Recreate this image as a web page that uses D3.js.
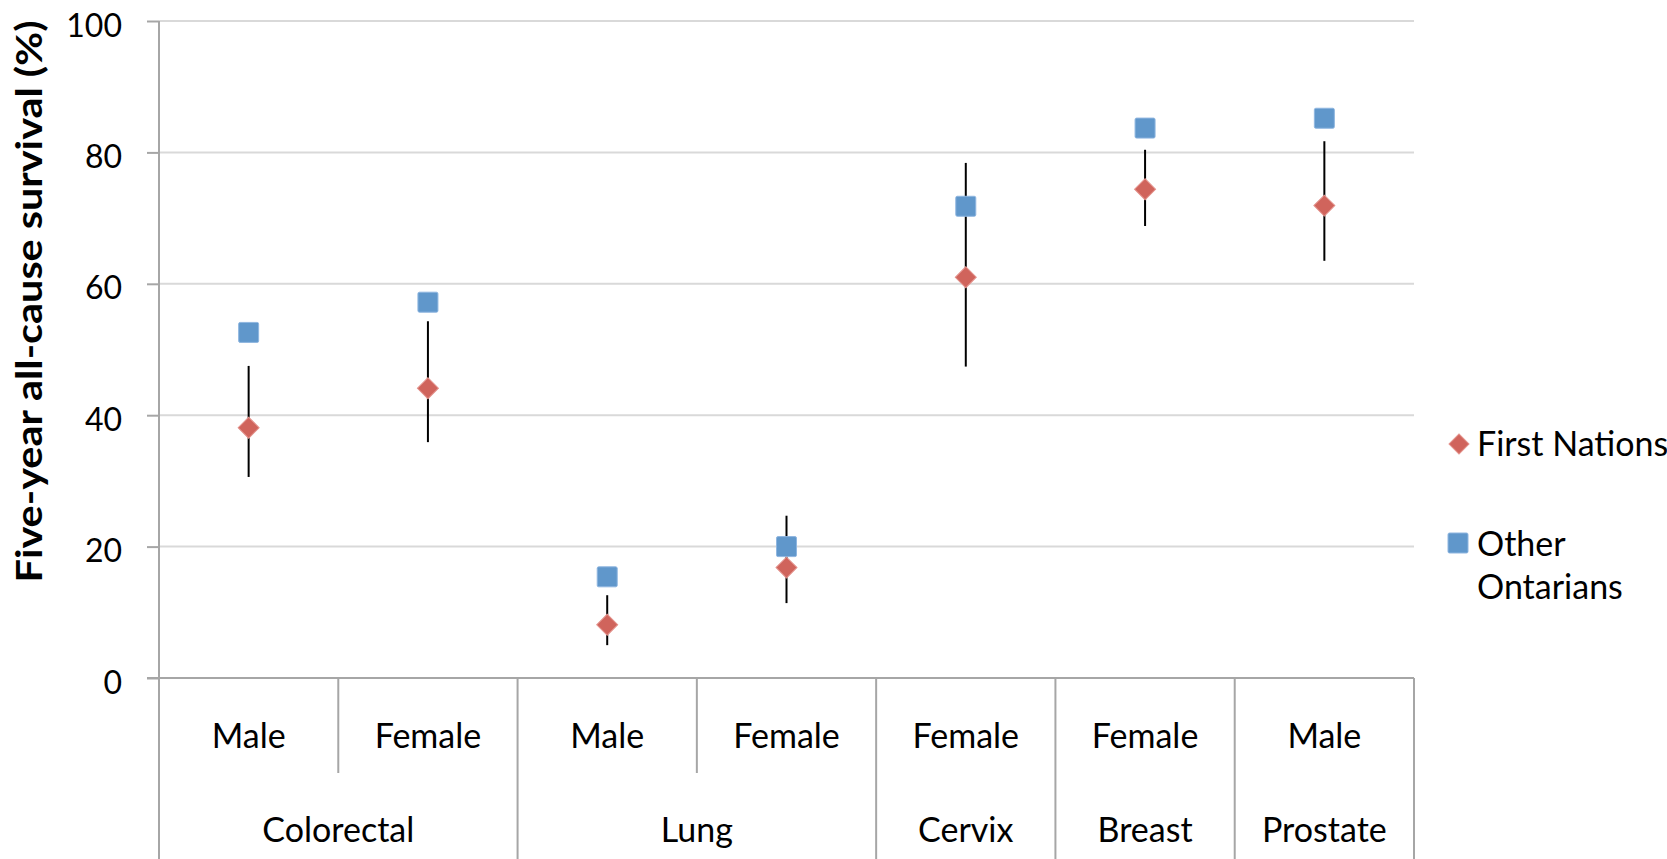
<!DOCTYPE html>
<html>
<head>
<meta charset="utf-8">
<script src="https://cdn.jsdelivr.net/npm/d3@7"></script>
<style>
  html, body { margin: 0; padding: 0; background: #fff; }
  svg { display: block; }
  text { font-family: Lato, "Open Sans", sans-serif; fill: #000; }
</style>
</head>
<body>
<svg id="chart" width="1667" height="859"></svg>
<script>
const cancers = ["Colorectal", "Colorectal", "Lung", "Lung", "Cervix", "Breast", "Prostate"];
const sexes = ["Male", "Female", "Male", "Female", "Female", "Female", "Male"];
const otherOntarians = [52.6, 57.2, 15.4, 20.0, 71.8, 83.7, 85.2];
const firstNations = [38.1, 44.1, 8.1, 16.8, 61.0, 74.4, 71.9];
const fnLower = [30.6, 35.9, 5.0, 11.4, 47.4, 68.8, 63.5];
const fnUpper = [47.5, 54.3, 12.6, 24.7, 78.4, 80.4, 81.7];
const yTicks = [0, 20, 40, 60, 80, 100];
const seriesNames = ["First Nations", "Other Ontarians"];
const yTitle = "Five-year all-cause survival (%)";

(function () {
const svg = d3.select("#chart");
const pL = 159, pR = 1414, pT = 21, pB = 678;
const idx = d3.range(cancers.length);

const x = d3.scaleBand().domain(idx).range([pL, pR]).padding(0);
const y = d3.scaleLinear().domain([0, 100]).range([pB, pT]);

const axisColor = "#a6a6a6";
const gridColor = "#d9d9d9";
const blue = "#6097CB", blueStroke = "#8fb6e0";
const red = "#D0645C", redStroke = "#e3928c";

// gridlines
svg.append("g").selectAll("line").data(yTicks.filter(d => d > 0)).join("line")
  .attr("x1", pL).attr("x2", pR)
  .attr("y1", d => y(d)).attr("y2", d => y(d))
  .attr("stroke", gridColor).attr("stroke-width", 2);

// y axis
const yAxis = svg.append("g").attr("transform", `translate(${pL},0)`)
  .call(d3.axisLeft(y).tickValues(yTicks).tickSize(12).tickPadding(25).tickFormat(d3.format("d")));
yAxis.select(".domain").remove();
yAxis.selectAll(".tick line").attr("stroke", axisColor).attr("stroke-width", 2);
yAxis.selectAll(".tick text").style("font-size", "32px").style("font-family", "Lato, sans-serif")
  .attr("fill", "#000").attr("dy", "15px");

// vertical axis line (extends down through category area)
svg.append("line").attr("x1", pL).attr("x2", pL).attr("y1", pT).attr("y2", 859)
  .attr("stroke", axisColor).attr("stroke-width", 2);

// horizontal axis line
svg.append("line").attr("x1", pL - 12).attr("x2", pR).attr("y1", pB).attr("y2", pB)
  .attr("stroke", axisColor).attr("stroke-width", 2);

// category dividers
const dividers = idx.slice(1).map(i => ({ x: x(i), long: cancers[i] !== cancers[i - 1] }));
dividers.push({ x: pR, long: true });
svg.append("g").selectAll("line").data(dividers).join("line")
  .attr("x1", d => d.x).attr("x2", d => d.x)
  .attr("y1", pB).attr("y2", d => d.long ? 859 : 773)
  .attr("stroke", axisColor).attr("stroke-width", 2);

// sub labels
svg.append("g").selectAll("text").data(idx).join("text")
  .attr("x", i => x(i) + x.bandwidth() / 2).attr("y", 748)
  .attr("text-anchor", "middle").style("font-size", "34px")
  .text(i => sexes[i]);

// group labels
const groups = [];
idx.forEach(i => {
  const g = groups.find(g => g.name === cancers[i]);
  if (g) g.end = i; else groups.push({ name: cancers[i], start: i, end: i });
});
svg.append("g").selectAll("text").data(groups).join("text")
  .attr("x", g => (x(g.start) + x(g.end) + x.bandwidth()) / 2).attr("y", 842)
  .attr("text-anchor", "middle").style("font-size", "34px")
  .text(g => g.name);

// error bars
svg.append("g").selectAll("line").data(idx).join("line")
  .attr("x1", i => x(i) + x.bandwidth() / 2).attr("x2", i => x(i) + x.bandwidth() / 2)
  .attr("y1", i => y(fnUpper[i])).attr("y2", i => y(fnLower[i]))
  .attr("stroke", "#000").attr("stroke-width", 2);

// squares (Other Ontarians)
const sq = 20;
svg.append("g").selectAll("rect").data(idx).join("rect")
  .attr("x", i => x(i) + x.bandwidth() / 2 - sq / 2)
  .attr("y", i => y(otherOntarians[i]) - sq / 2)
  .attr("width", sq).attr("height", sq).attr("rx", 1.5)
  .attr("fill", blue).attr("stroke", blueStroke).attr("stroke-width", 1);

// diamonds (First Nations)
const dsym = d3.symbol().type(d3.symbolSquare).size(220);
svg.append("g").selectAll("path").data(idx).join("path")
  .attr("d", dsym)
  .attr("transform", i => `translate(${x(i) + x.bandwidth() / 2},${y(firstNations[i])}) rotate(45)`)
  .attr("fill", red).attr("stroke", redStroke).attr("stroke-width", 1);

// y title
svg.append("text")
  .attr("transform", `translate(42,${(pT + pB) / 2 - 48}) rotate(-90)`)
  .attr("text-anchor", "middle")
  .attr("textLength", 562).attr("lengthAdjust", "spacingAndGlyphs")
  .style("font-size", "36px").style("font-weight", "bold")
  .text(yTitle);

// legend
const lg = svg.append("g");
lg.append("path").attr("d", d3.symbol().type(d3.symbolSquare).size(200))
  .attr("transform", "translate(1459,444) rotate(45)")
  .attr("fill", red).attr("stroke", redStroke).attr("stroke-width", 1);
lg.append("text").attr("x", 1477).attr("y", 456).style("font-size", "34px").text(seriesNames[0]);
lg.append("rect").attr("x", 1448).attr("y", 533).attr("width", 20).attr("height", 20).attr("rx", 1.5)
  .attr("fill", blue).attr("stroke", blueStroke).attr("stroke-width", 1);
const t2 = lg.append("text").attr("x", 1477).attr("y", 556).style("font-size", "34px");
t2.append("tspan").attr("x", 1477).text("Other");
t2.append("tspan").attr("x", 1477).attr("dy", 43).text("Ontarians");
})();
</script>
</body>
</html>
